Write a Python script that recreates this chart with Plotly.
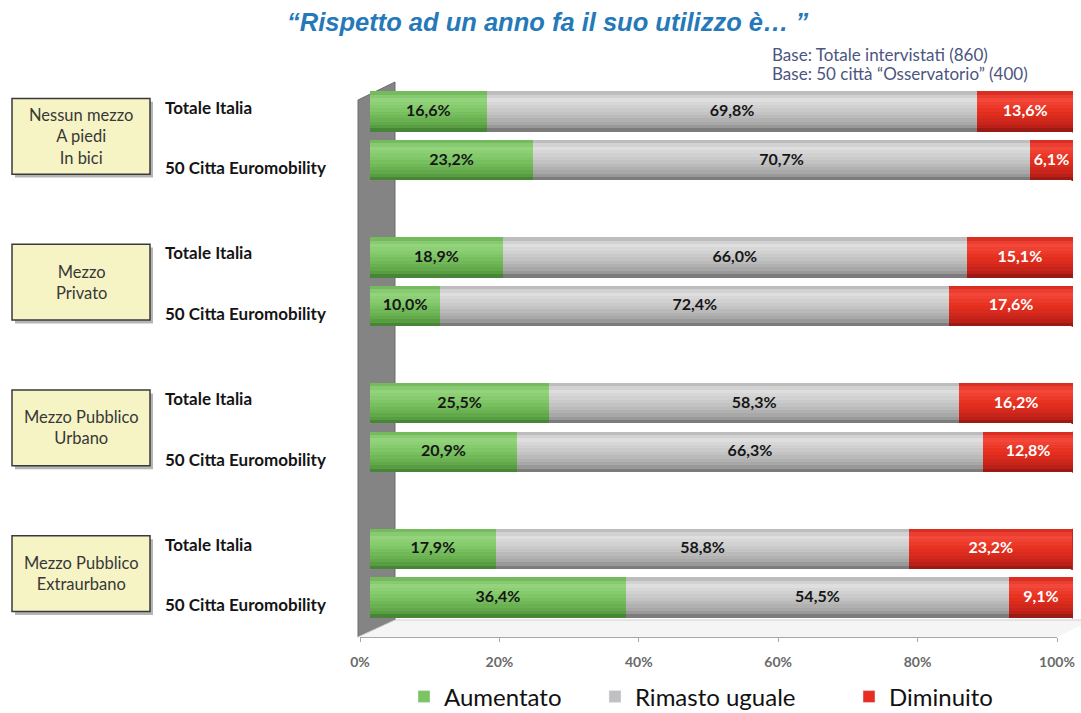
import plotly.graph_objects as go

W, H = 1081, 713

# ---- data -------------------------------------------------------------
groups = ["Nessun mezzo<br>A piedi<br>In bici", "Mezzo<br>Privato",
          "Mezzo Pubblico<br>Urbano", "Mezzo Pubblico<br>Extraurbano"]
rows = ["Totale Italia", "50 Citta Euromobility"]
aumentato = [16.6, 23.2, 18.9, 10.0, 25.5, 20.9, 17.9, 36.4]
rimasto = [69.8, 70.7, 66.0, 72.4, 58.3, 66.3, 58.8, 54.5]
diminuito = [13.6, 6.1, 15.1, 17.6, 16.2, 12.8, 23.2, 9.1]
series_names = ["Aumentato", "Rimasto uguale", "Diminuito"]
tick_vals = [0, 20, 40, 60, 80, 100]
title = "“Rispetto ad un anno fa il suo utilizzo è… ”"
base_notes = ["Base: Totale intervistati (860)", "Base: 50 città “Osservatorio” (400)"]

# ---- helpers ----------------------------------------------------------
def px(x):
    return x / W


def py(y):
    return 1 - y / H


def hex2rgb(h):
    h = h.lstrip("#")
    return [int(h[i:i + 2], 16) for i in (0, 2, 4)]


def shade(stops, t):
    for (t0, c0), (t1, c1) in zip(stops, stops[1:]):
        if t0 <= t <= t1:
            f = (t - t0) / (t1 - t0) if t1 > t0 else 0
            a, b = hex2rgb(c0), hex2rgb(c1)
            return "rgb(%d,%d,%d)" % tuple(round(a[i] + (b[i] - a[i]) * f) for i in range(3))
    return stops[-1][1]


def pct(v):
    return f"{v:.1f}%".replace(".", ",")


# cylinder shading, top -> bottom
shading = {
    "Aumentato": [(0, "#6cb253"), (0.18, "#95d57e"), (0.5, "#7cc462"), (0.85, "#5ea447"), (1, "#3e7b30")],
    "Rimasto uguale": [(0, "#b3b3b3"), (0.18, "#e0e0e0"), (0.5, "#c7c7c7"), (0.85, "#a2a2a2"), (1, "#6e6e6e")],
    "Diminuito": [(0, "#d2261c"), (0.18, "#f4493b"), (0.5, "#e6301f"), (0.85, "#c3221a"), (1, "#8c1711")],
}
legend_color = {"Aumentato": "#7cc462", "Rimasto uguale": "#c0c0c0", "Diminuito": "#e62e22"}
text_color = {"Aumentato": "#161616", "Rimasto uguale": "#161616", "Diminuito": "#ffffff"}

# row positions: two rows per group, one empty slot between groups
pos = [g * 3 + r for g in range(len(groups)) for r in range(len(rows))]
BAR_H = 0.83
N_BANDS = 12

values = [aumentato, rimasto, diminuito]
bases = []
acc = [0.0] * len(pos)
for vals in values:
    bases.append(list(acc))
    acc = [a + v for a, v in zip(acc, vals)]
totals = acc

fig = go.Figure()

# ---- shaded cylinder bars ----------------------------------------------
bw = BAR_H / N_BANDS
for name, vals, b in zip(series_names, values, bases):
    for k in range(N_BANDS):
        t = (k + 0.5) / N_BANDS
        fig.add_trace(go.Bar(
            orientation="h", y=pos, x=vals, base=b,
            width=bw * (1.5 if k < N_BANDS - 1 else 1.0),
            offset=-BAR_H / 2 + k * bw,
            marker=dict(color=shade(shading[name], t), line=dict(width=0)),
            showlegend=False, hoverinfo="skip",
        ))

# ---- value labels --------------------------------------------------------
for name, vals, b in zip(series_names, values, bases):
    fig.add_trace(go.Scatter(
        x=[bb + v / 2 for bb, v in zip(b, vals)], y=pos, mode="text",
        text=["<b>" + pct(v) + "</b>" for v in vals],
        textfont=dict(family="Lato", size=16, color=text_color[name]),
        showlegend=False, hoverinfo="skip", cliponaxis=False,
    ))

# ---- legend entries (one legend each, placed side by side) -------------
for i, name in enumerate(series_names):
    fig.add_trace(go.Bar(
        orientation="h", x=[None], y=[None], name=name,
        marker=dict(color=legend_color[name]),
        legend="legend" if i == 0 else f"legend{i + 1}",
    ))

# invisible trace carrying the tick axis
fig.add_trace(go.Scatter(x=[tick_vals[0], tick_vals[-1]], y=[pos[0], pos[0]], xaxis="x2",
                         mode="markers", marker=dict(opacity=0), showlegend=False,
                         hoverinfo="skip"))

shapes = []
# 3D back wall (left side panel)
shapes.append(dict(type="path", xref="paper", yref="paper", layer="below",
                   path=f"M {px(358)},{py(100)} L {px(395)},{py(82)} L {px(395)},{py(620)} "
                        f"L {px(358)},{py(637)} Z",
                   fillcolor="#848484", line=dict(color="#6c6c6c", width=1)))
# floor
shapes.append(dict(type="path", xref="paper", yref="paper", layer="below",
                   path=f"M {px(358)},{py(637)} L {px(395)},{py(620)} L {px(1092)},{py(620)} "
                        f"L {px(1057)},{py(637)} Z",
                   fillcolor="#f5f5f5", line=dict(width=0)))
shapes.append(dict(type="path", xref="paper", yref="paper", layer="below",
                   path=f"M {px(358)},{py(637)} L {px(395)},{py(620)} L {px(1081)},{py(620)}",
                   line=dict(color="#cfcfcf", width=1)))

# cylinder end caps
cap = 1.0
for p, tot in zip(pos, totals):
    shapes.append(dict(type="circle", xref="x", yref="y", layer="below",
                       x0=tot - cap, x1=tot + cap, y0=p - BAR_H / 2, y1=p + BAR_H / 2,
                       fillcolor="#c8261d", line=dict(color="#9c1a14", width=1)))
    shapes.append(dict(type="circle", xref="x", yref="y", layer="below",
                       x0=-cap * 0.8, x1=cap * 0.8, y0=p - BAR_H / 2, y1=p + BAR_H / 2,
                       fillcolor="#72b858", line=dict(width=0)))

# group boxes with drop shadow
annotations = []
box_half = 0.78
for g, label in enumerate(groups):
    c = g * 3 + 0.5
    shapes.append(dict(type="rect", xref="paper", yref="y", layer="above",
                       x0=px(15), x1=px(153), y0=c - box_half + 0.07, y1=c + box_half + 0.07,
                       fillcolor="rgba(90,90,90,0.45)", line=dict(width=0)))
    shapes.append(dict(type="rect", xref="paper", yref="y", layer="above",
                       x0=px(12), x1=px(150), y0=c - box_half, y1=c + box_half,
                       fillcolor="#f6f4c4", line=dict(color="#3a3a3a", width=1.5)))
    annotations.append(dict(xref="paper", yref="y", x=px(81), y=c, text=label,
                            showarrow=False, align="center", xanchor="center", yanchor="middle",
                            font=dict(family="Lato", size=16.5, color="#383838")))

# row labels
for i, p in enumerate(pos):
    r = i % 2
    annotations.append(dict(xref="paper", yref="y", x=px(163), y=p + (-0.1 if r == 0 else 0.14),
                            text="<b>" + rows[r] + "</b>", showarrow=False,
                            xanchor="left", yanchor="middle",
                            font=dict(family="Lato", size=17, color="#151515")))

annotations.append(dict(xref="paper", yref="paper", x=px(548), y=py(22), text="<b><i>" + title + "</i></b>",
                        showarrow=False, xanchor="center", yanchor="middle",
                        font=dict(family="Liberation Sans", size=25.5, color="#2579b9")))
for j, note in enumerate(base_notes):
    annotations.append(dict(xref="paper", yref="paper", x=px(770), y=py(55 + 18 * j), text=note,
                            showarrow=False, xanchor="left", yanchor="middle",
                            font=dict(family="Lato", size=17, color="#4b5580")))

legend_common = dict(orientation="h", xanchor="left", yanchor="middle", y=py(697),
                     font=dict(family="Lato", size=24, color="#111111"),
                     bgcolor="rgba(0,0,0,0)", itemwidth=30, itemclick=False)

fig.update_layout(
    width=W, height=H, margin=dict(l=0, r=0, t=0, b=0, autoexpand=False),
    paper_bgcolor="white", plot_bgcolor="rgba(0,0,0,0)",
    barmode="overlay", bargap=0,
    xaxis=dict(domain=[px(370), px(1073)], range=[0, 100], visible=False, fixedrange=True),
    xaxis2=dict(domain=[px(360), px(1057)], range=[0, 100], anchor="free", position=py(637),
                tickvals=tick_vals, ticktext=[f"<b>{v}%</b>" for v in tick_vals],
                showline=True, linecolor="#a8a8a8", linewidth=1.2, automargin=False,
                ticks="outside", ticklen=4, tickcolor="#a8a8a8",
                ticklabelstandoff=8, showgrid=False, zeroline=False,
                tickfont=dict(family="Lato", size=14, color="#6a6a6a")),
    yaxis=dict(domain=[py(646.6), py(63.4)], range=[11, -1], visible=False, fixedrange=True),
    shapes=shapes, annotations=annotations,
    legend=dict(x=px(404), **legend_common),
    legend2=dict(x=px(595), **legend_common),
    legend3=dict(x=px(849), **legend_common),
)

fig.write_html("out.html")
